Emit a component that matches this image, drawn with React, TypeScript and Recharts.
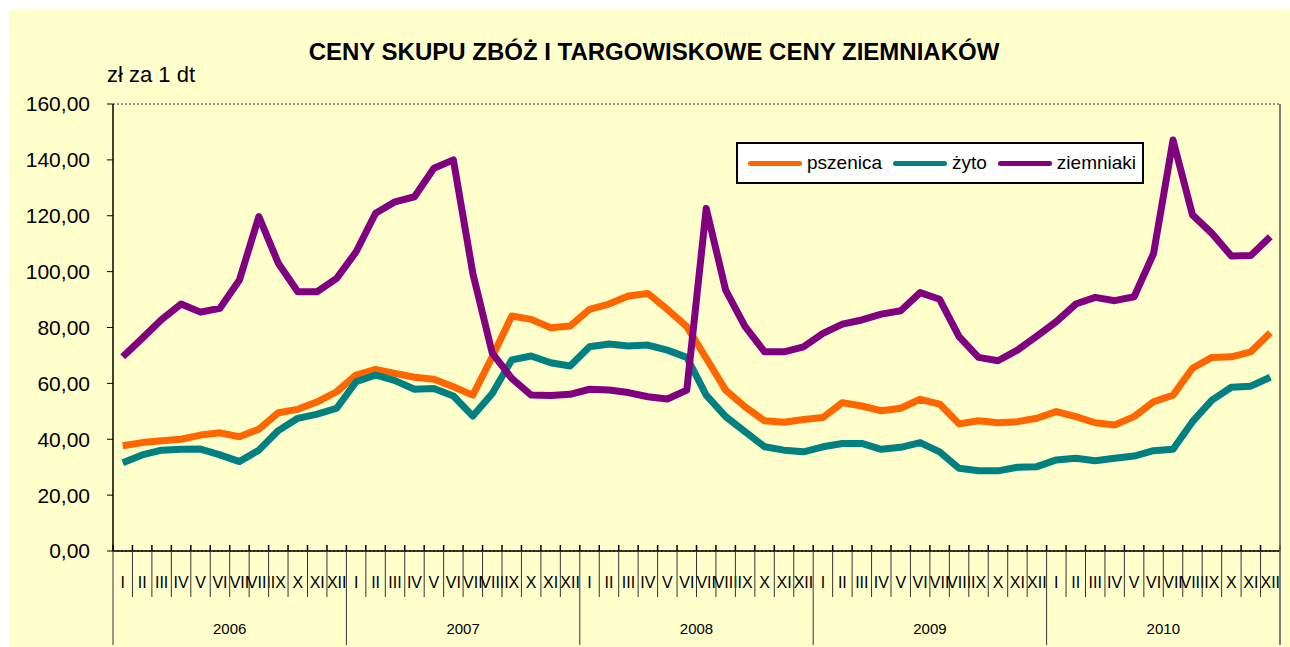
import React from 'react';
import { LineChart, Line, XAxis, YAxis, CartesianGrid } from 'recharts';

// category labels
const YEARS = ['2006', '2007', '2008', '2009', '2010'];
const MONTHS = ['I', 'II', 'III', 'IV', 'V', 'VI', 'VII', 'VIII', 'IX', 'X', 'XI', 'XII'];
const Y_TICKS = [0, 20, 40, 60, 80, 100, 120, 140, 160];

// zł za 1 dt, monthly 2006-2010
const pszenica = [
    37.7, 38.8, 39.5, 40.0, 41.5, 42.3, 40.9, 43.6, 49.5, 50.7, 53.4, 57.0,
    63.0, 65.0, 63.6, 62.2, 61.5, 58.8, 55.8, 69.5, 84.1, 82.9, 79.9, 80.5,
    86.5, 88.4, 91.3, 92.2, 86.5, 80.3, 69.0, 57.6, 51.6, 46.6, 46.1, 47.1,
    47.8, 53.1, 51.9, 50.2, 51.1, 54.3, 52.6, 45.5, 46.6, 45.9, 46.3, 47.5,
    49.9, 48.1, 45.9, 45.1, 48.1, 53.4, 55.8, 65.4, 69.3, 69.5, 71.3, 78.1,
];
const zyto = [
    31.6, 34.4, 36.1, 36.4, 36.5, 34.4, 32.0, 36.1, 43.1, 47.5, 49.0, 51.1,
    60.6, 63.0, 61.0, 57.9, 58.2, 55.5, 48.3, 56.4, 68.4, 69.8, 67.4, 66.2,
    73.1, 74.1, 73.4, 73.7, 71.9, 69.3, 55.8, 48.1, 42.7, 37.3, 36.1, 35.5,
    37.3, 38.5, 38.5, 36.4, 37.1, 38.8, 35.5, 29.6, 28.7, 28.7, 30.0, 30.2,
    32.6, 33.2, 32.3, 33.2, 34.0, 35.9, 36.4, 46.3, 54.0, 58.6, 59.0, 62.2,
];
const ziemniaki = [
    69.5, 76.1, 82.9, 88.4, 85.5, 86.9, 97.0, 119.7, 103.0, 92.8, 92.8, 97.6,
    107.1, 120.9, 125.0, 126.8, 137.0, 140.0, 99.4, 70.8, 61.8, 55.8, 55.7, 56.1,
    57.9, 57.6, 56.7, 55.2, 54.4, 57.6, 122.6, 93.4, 80.3, 71.3, 71.3, 73.1,
    77.9, 81.2, 82.7, 84.8, 86.0, 92.5, 90.1, 76.7, 69.3, 68.1, 71.9, 76.9,
    82.1, 88.4, 90.8, 89.6, 91.0, 106.5, 147.1, 120.3, 113.7, 105.6, 105.8, 112.5,
];

const SERIES = [
    { key: 'pszenica', name: 'pszenica', color: '#FF6600' },
    { key: 'zyto', name: 'żyto', color: '#008080' },
    { key: 'ziemniaki', name: 'ziemniaki', color: '#800080' },
];

const chartData = YEARS.flatMap((year, yi) =>
    MONTHS.map((month, mi) => {
        const i = yi * 12 + mi;
        return {
            key: `${year}-${month}`,
            month,
            year,
            pszenica: pszenica[i],
            zyto: zyto[i],
            ziemniaki: ziemniaki[i],
        };
    })
);

const FONT = '"Liberation Sans", Arial, sans-serif';
const CHART_W = 1281;
const CHART_H = 637;
const MARGIN = { top: 94, right: 9, left: 0, bottom: 0 };
const Y_AXIS_W = 104;
const PLOT_W = CHART_W - MARGIN.left - MARGIN.right - Y_AXIS_W - 1;
const BAND = PLOT_W / chartData.length;

// month label + separators, year label under the middle of each year
const MonthTick = (props: any) => {
    const { x, y, index } = props;
    const d = chartData[index];
    if (!d) return null;
    const mi = index % 12;
    const left = x - BAND / 2;
    const right = x + BAND / 2;
    return (
        <g>
            <line x1={left} x2={left} y1={y - 6} y2={y} stroke="#000" strokeWidth={1.5} />
            <line x1={left} x2={left} y1={y} y2={mi === 0 ? y + 94 : y + 46} stroke="#333" strokeWidth={1} />
            {index === chartData.length - 1 && (
                <line x1={right} x2={right} y1={y - 6} y2={y + 94} stroke="#555" strokeWidth={1.5} />
            )}
            <text x={x} y={y + 31} textAnchor="middle" dominantBaseline="central" fontSize={16} fontFamily={FONT} fill="#000">
                {d.month}
            </text>
            {mi === 5 && (
                <text x={right} y={y + 77} textAnchor="middle" dominantBaseline="central" fontSize={15} fontFamily={FONT} fill="#000">
                    {d.year}
                </text>
            )}
        </g>
    );
};

const LegendBox = () => (
    <div
        style={{
            position: 'absolute',
            left: 727,
            top: 132,
            display: 'flex',
            alignItems: 'center',
            width: 394,
            height: 38,
            background: '#fff',
            border: '2px solid #000',
            paddingLeft: 10,
            fontFamily: FONT,
            fontSize: 19,
            color: '#000',
            whiteSpace: 'nowrap',
        }}
    >
        {SERIES.map((s) => (
            <div key={s.key} style={{ display: 'flex', alignItems: 'center', marginRight: 11 }}>
                <span style={{ display: 'inline-block', width: 54, height: 5, borderRadius: 3, background: s.color, marginRight: 5 }} />
                <span>{s.name}</span>
            </div>
        ))}
    </div>
);

const App: React.FC = () => {
    return (
        <div style={{ position: 'absolute', left: 0, top: 0, width: 1290, height: 647, overflow: 'hidden', background: '#fff' }}>
            <div
                style={{
                    position: 'absolute',
                    left: 9,
                    top: 10,
                    width: CHART_W,
                    height: CHART_H,
                    background: '#FFFFCC',
                    fontFamily: FONT,
                    overflow: 'hidden',
                }}
            >
                <div
                    style={{
                        position: 'absolute',
                        left: 0,
                        width: CHART_W,
                        boxSizing: 'border-box',
                        paddingLeft: 9,
                        top: 27,
                        textAlign: 'center',
                        fontWeight: 'bold',
                        fontSize: 24,
                        lineHeight: '30px',
                        color: '#000',
                        whiteSpace: 'nowrap',
                    }}
                >
                    CENY SKUPU ZBÓŻ I TARGOWISKOWE CENY ZIEMNIAKÓW
                </div>
                <div style={{ position: 'absolute', left: 98, top: 52, fontSize: 22, lineHeight: '26px', color: '#000' }}>
                    zł za 1 dt
                </div>
                <LineChart width={CHART_W} height={CHART_H} data={chartData} margin={MARGIN}>
                    <CartesianGrid vertical={false} stroke="#333" strokeDasharray="2 2" strokeWidth={1} />
                    <XAxis
                        dataKey="key"
                        interval={0}
                        height={96}
                        padding={{ left: BAND / 2, right: BAND / 2 }}
                        tickSize={0}
                        tickMargin={0}
                        tickLine={false}
                        axisLine={{ stroke: '#000', strokeWidth: 1.5 }}
                        tick={<MonthTick />}
                    />
                    <YAxis
                        yAxisId="left"
                        width={Y_AXIS_W}
                        domain={[0, 160]}
                        ticks={Y_TICKS}
                        interval={0}
                        tickSize={6}
                        tickMargin={17}
                        tickLine={{ stroke: '#000' }}
                        axisLine={{ stroke: '#000', strokeWidth: 1.5 }}
                        tickFormatter={(v: number) => v.toFixed(2).replace('.', ',')}
                        tick={{ fill: '#000', fontSize: 21, fontFamily: FONT }}
                    />
                    <YAxis
                        yAxisId="right"
                        orientation="right"
                        width={1}
                        domain={[0, 160]}
                        tick={false}
                        tickLine={false}
                        axisLine={{ stroke: '#555', strokeWidth: 1.5 }}
                    />
                    {SERIES.map((s) => (
                        <Line
                            key={s.key}
                            yAxisId="left"
                            type="linear"
                            dataKey={s.key}
                            name={s.name}
                            stroke={s.color}
                            strokeWidth={7}
                            strokeLinejoin="round"
                            dot={false}
                            activeDot={false}
                            isAnimationActive={false}
                        />
                    ))}
                </LineChart>
                <LegendBox />
            </div>
        </div>
    );
};

export default App;
